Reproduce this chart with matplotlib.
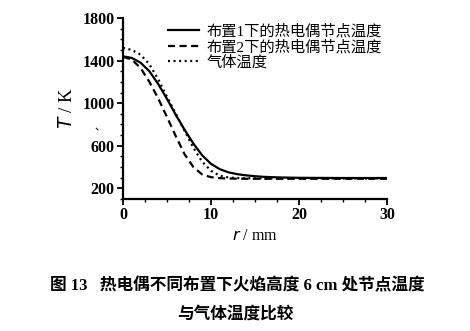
import matplotlib
matplotlib.use("Agg")
import matplotlib.pyplot as plt
from matplotlib.ticker import MultipleLocator

plt.rcParams['font.family'] = ['Liberation Serif', 'Noto Sans CJK SC']

# radial position (mm)
r = [0, 1, 2, 3, 4, 5, 6, 7, 8, 9, 10, 11, 12, 13, 14, 15, 16, 18, 20, 25, 30]
# thermocouple junction temperature, arrangement 1 (K)
t_layout1 = [1440, 1425, 1380, 1300, 1180, 1040, 890, 750, 620, 510, 430,
             380, 350, 333, 322, 314, 308, 302, 299, 297, 297]
# thermocouple junction temperature, arrangement 2 (K)
t_layout2 = [1435, 1410, 1330, 1200, 1045, 870, 690, 520, 400, 330, 305,
             296, 292, 291, 290, 290, 290, 290, 290, 290, 290]
# gas temperature (K)
t_gas = [1520, 1500, 1455, 1365, 1225, 1060, 900, 740, 580, 450, 365,
         318, 302, 297, 295, 294, 294, 294, 294, 294, 294]

series_labels = ['布置1下的热电偶节点温度', '布置2下的热电偶节点温度', '气体温度']
x_ticks = [0, 10, 20, 30]
y_ticks = [200, 600, 1000, 1400, 1800]

fig = plt.figure(figsize=(4.70, 3.31), dpi=100)
ax = fig.add_axes([123 / 470, 132 / 331, 264 / 470, 181 / 331])

ax.plot(r, t_layout1, color='black', lw=1.6, ls='-', label=series_labels[0])
ax.plot(r, t_layout2, color='black', lw=1.6, ls=(0, (3.2, 2.0)), label=series_labels[1])
ax.plot(r, t_gas, color='black', lw=1.6, ls=(0, (0.9, 1.6)), label=series_labels[2])

ax.set_xlim(0, 30)
ax.set_ylim(100, 1800)
ax.set_xticks(x_ticks)
ax.set_yticks(y_ticks)
ax.xaxis.set_minor_locator(MultipleLocator(2.5))
ax.yaxis.set_minor_locator(MultipleLocator(100))
ax.tick_params(which='major', direction='out', length=4, width=1.3,
               labelsize=11.5, pad=2)
ax.tick_params(which='minor', direction='out', length=2.5, width=1.0)
for lab in ax.get_xticklabels() + ax.get_yticklabels():
    lab.set_fontweight('bold')

for side in ('top', 'right'):
    ax.spines[side].set_visible(False)
for side in ('left', 'bottom'):
    ax.spines[side].set_linewidth(1.6)

ax.set_xlabel(r'$r$ / mm', fontsize=11.5, labelpad=3)
ax.set_ylabel(r'$T$ / K', fontsize=13.5, labelpad=5)

leg = ax.legend(loc='upper left', bbox_to_anchor=(168 / 470, 1 - 24 / 331),
                bbox_transform=fig.transFigure, frameon=False,
                prop={'family': ['Liberation Serif', 'Noto Sans CJK SC'], 'size': 11},
                handlelength=2.0, handletextpad=0.5, labelspacing=0.08,
                borderpad=0, borderaxespad=0)

fig.text(100 / 470, 1 - 127 / 331, '、', fontsize=8, ha='center', va='center',
         family=['Noto Sans CJK SC'])

fig.text(50 / 470, 1 - 286 / 331, '图 13   热电偶不同布置下火焰高度 6 cm 处节点温度',
         fontsize=12, fontweight='bold', ha='left', va='center')
fig.text(235 / 470, 1 - 315 / 331, '与气体温度比较',
         fontsize=12, fontweight='bold', ha='center', va='center')

fig.savefig('out.png', dpi=100)
